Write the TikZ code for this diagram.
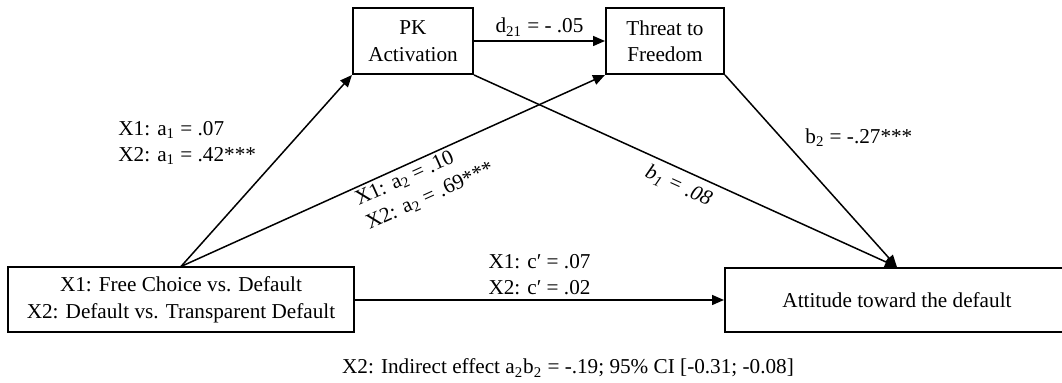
\documentclass[tikz,border=0pt]{standalone}
\usepackage{fontspec}
\setmainfont{Liberation Serif}
\usetikzlibrary{arrows.meta,positioning,calc}
\newcommand{\fs}{\fontsize{10.6}{13.2}\selectfont}
\tikzset{
  var/.style ={draw, rectangle, align=center, line width=1pt, inner sep=2pt, font=\fs},
  ar/.style  ={-{Triangle[length=6pt,width=5pt]}, line width=0.75pt},
  lab/.style ={align=left, font=\fs, inner sep=2pt},
}

\begin{document}
\begin{tikzpicture}[x=0.5pt,y=-0.5pt]
\useasboundingbox (0,0) rectangle (1062,383);
% boxes
\node[var, minimum width=60pt, minimum height=33pt] (pk) at (413,41) {PK\\Activation};
\node[var, minimum width=59pt, minimum height=33pt] (thr) at (665,41) {Threat to\\Freedom};
\node[var, minimum width=173pt, minimum height=32.5pt] (x) at (181,300) {X1: Free Choice vs. Default\\X2: Default vs. Transparent Default};
\node[var, minimum width=172pt, minimum height=32pt] (att) at (897,300) {Attitude toward the default};
% paths
\draw[ar] (pk.east) -- node[lab, above] {d\textsubscript{21} = - .05} (thr.west);
\draw[ar] (x.north) -- (pk.south west);
\draw[ar] (x.north) -- node[lab, sloped, below, pos=.55, inner sep=1.5pt]
  {X1: a\textsubscript{2} = .10\\X2: a\textsubscript{2} = .69***} (thr.south west);
\draw[ar] (pk.south east) -- node[lab, sloped, below, pos=.5, inner sep=3.5pt, font=\fs\itshape]
  {b\textsubscript{1} = .08} (att.north);
\draw[ar] (thr.south east) -- (att.north);
\draw[ar] (x.east) -- node[lab, above] {X1: c′ = .07\\X2: c′ = .02} (att.west);
% labels
\node[lab, anchor=west] (alab) at (114,143) {X1: a\textsubscript{1} = .07\\X2: a\textsubscript{1} = .42***};
\node[lab, anchor=west] (blab) at (801,138) {b\textsubscript{2} = -.27***};
\node[lab] (ind) at (568,368) {X2: Indirect effect a\textsubscript{2}b\textsubscript{2} = -.19; 95\% CI [-0.31; -0.08]};
\end{tikzpicture}
\end{document}
